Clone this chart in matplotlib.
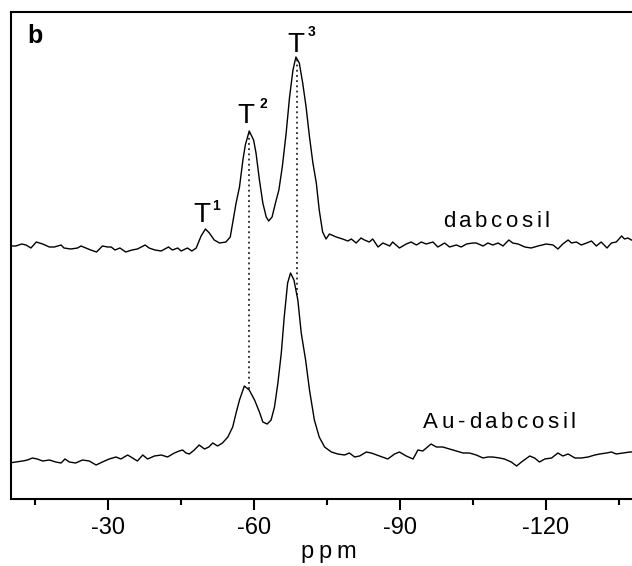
import matplotlib
matplotlib.use("Agg")
import matplotlib.pyplot as plt
from matplotlib.font_manager import FontProperties
from matplotlib.textpath import TextToPath
from matplotlib.ticker import MultipleLocator

plt.rcParams['font.family'] = 'Liberation Sans'

# dabcosil trace (upper), chemical shift in ppm and intensity (a.u.)
top_ppm = [-9.5, -10.0, -11.0, -12.2, -13.1, -14.1, -15.2, -16.5, -17.9, -18.9,
           -20.3, -20.9, -22.3, -23.7, -24.4, -25.4, -26.4, -27.6, -28.8, -29.9,
           -30.6, -31.4, -32.4, -33.6, -34.9, -36.0, -37.6, -38.4, -39.6, -40.9,
           -42.4, -43.2, -44.3, -45.0, -46.3, -47.2, -48.1, -49.1, -50.0, -50.8,
           -51.8, -52.9, -54.2, -55.1, -55.6, -56.3, -57.0, -57.7, -58.2, -59.0,
           -59.9, -60.4, -61.1, -61.8, -62.5, -63.0, -63.7, -64.4, -65.1, -65.8,
           -66.6, -67.3, -68.0, -68.6, -69.3, -70.0, -70.7, -71.4, -72.1, -72.8,
           -73.4, -74.1, -74.8, -75.5, -76.9, -78.2, -79.3, -80.0, -81.0, -82.0,
           -82.7, -83.7, -84.4, -85.5, -86.5, -87.9, -88.5, -89.9, -91.3, -92.3,
           -93.4, -94.4, -95.4, -96.8, -97.8, -99.2, -100.2, -101.6, -102.6, -103.7,
           -105.0, -105.7, -107.1, -108.1, -109.1, -110.2, -111.2, -112.4, -113.2, -114.3,
           -115.7, -117.0, -118.4, -120.1, -121.5, -122.5, -123.5, -124.6, -125.3, -126.3,
           -127.3, -128.4, -129.4, -130.4, -131.4, -132.6, -133.5, -134.5, -135.6, -136.2,
           -136.9, -137.6, -139.0, -140.5]
top_int = [253, 253, 253, 255, 254, 251, 257, 255, 252, 252,
           254, 251, 250, 251, 253, 251, 249, 247, 253, 252,
           252, 249, 251, 247, 249, 250, 254, 251, 249, 248,
           252, 249, 251, 248, 251, 248, 251, 263, 270, 266,
           259, 256, 257, 262, 276, 296, 312, 339, 354, 368,
           359, 346, 319, 296, 282, 278, 282, 296, 309, 332,
           366, 402, 429, 442, 436, 416, 392, 362, 336, 316,
           289, 267, 260, 265, 262, 260, 258, 260, 256, 261,
           259, 257, 260, 252, 256, 253, 257, 251, 255, 257,
           254, 257, 255, 257, 252, 256, 252, 254, 252, 255,
           256, 256, 253, 256, 254, 256, 253, 259, 256, 255,
           252, 251, 253, 255, 254, 250, 255, 259, 256, 257,
           254, 256, 258, 253, 257, 251, 256, 257, 263, 260,
           261, 259, 258, 258]

# Au-dabcosil trace (lower)
bot_ppm = [-9.6, -11.0, -12.4, -13.4, -14.4, -15.4, -16.5, -17.9, -19.2, -20.3,
           -21.1, -22.0, -23.3, -24.7, -26.1, -27.5, -28.8, -30.2, -31.6, -32.6,
           -34.0, -35.0, -36.0, -37.1, -38.1, -39.5, -40.9, -42.2, -43.6, -44.6,
           -45.3, -46.0, -46.7, -47.7, -48.7, -49.8, -50.7, -51.5, -52.5, -53.5,
           -54.6, -55.6, -56.3, -57.0, -58.0, -59.0, -60.1, -61.1, -61.8, -62.7,
           -63.5, -64.2, -64.9, -65.6, -66.2, -66.9, -67.5, -68.2, -69.0, -69.7,
           -70.6, -71.4, -72.4, -73.4, -74.5, -75.9, -77.2, -78.6, -79.6, -80.7,
           -81.7, -83.1, -84.1, -85.8, -87.5, -88.9, -89.9, -91.3, -92.7, -93.7,
           -94.7, -96.4, -97.5, -98.8, -100.2, -101.6, -103.0, -104.3, -105.7, -107.1,
           -108.1, -109.1, -110.5, -111.5, -112.9, -114.0, -115.0, -116.7, -117.7, -118.7,
           -119.8, -121.2, -122.5, -123.5, -124.6, -126.0, -127.3, -128.7, -130.1, -131.1,
           -132.5, -133.5, -134.5, -135.9, -137.3, -140.5]
bot_int = [36, 37, 38, 39, 41, 40, 38, 39, 37, 36,
           40, 37, 36, 39, 38, 34, 37, 40, 42, 40,
           44, 41, 38, 44, 40, 43, 44, 42, 46, 48,
           49, 46, 45, 49, 54, 50, 52, 56, 53, 56,
           62, 72, 86, 99, 113, 109, 99, 87, 77, 75,
           79, 92, 116, 146, 182, 216, 226, 219, 199, 166,
           139, 109, 79, 62, 52, 47, 45, 44, 46, 42,
           43, 47, 46, 43, 40, 45, 47, 43, 40, 49,
           48, 55, 52, 52, 50, 48, 46, 46, 44, 41,
           42, 42, 41, 40, 37, 33, 37, 43, 41, 37,
           40, 41, 46, 43, 45, 41, 41, 42, 44, 45,
           46, 47, 45, 46, 47, 47]

# dotted guide lines (T2, T3 positions)
guide_ppm = [-59.0, -68.9]
guide_top = [368, 442]
guide_bot = [110, 204]

peak_labels = ["1", "2", "3"]
peak_T_pos = [(-49.3, 277), (-58.4, 376), (-68.6, 447)]
peak_sup_pos = [(-52.1, 289), (-61.8, 391), (-71.8, 463)]

ticks = [-30, -60, -90, -120]

t2p = TextToPath()


def spaced_text(ax, x, y, s, size, gap, coords, dy=0):
    # draws s one letter at a time so the letters get extra spacing
    fp = FontProperties(family='Liberation Sans', size=size)
    widths = [t2p.get_text_width_height_descent(c, fp, ismath=False)[0] for c in s]
    total = sum(widths) + gap * (len(s) - 1)
    pos = -total / 2
    for c, w in zip(s, widths):
        ax.annotate(c, xy=(x, y), xycoords=coords, xytext=(pos + w / 2, dy),
                    textcoords='offset points', ha='center', va='baseline',
                    fontsize=size, annotation_clip=False)
        pos += w + gap


fig = plt.figure(figsize=(6.32, 5.66), dpi=100)
ax = fig.add_axes([11 / 632, 1 - 499 / 566, 632 / 632, 487 / 566])

ax.plot(top_ppm, top_int, color='black', lw=1.0)
ax.plot(bot_ppm, bot_int, color='black', lw=1.0)
for gx, gt, gb in zip(guide_ppm, guide_top, guide_bot):
    ax.plot([gx, gx], [gb, gt], color='black', lw=1.1, linestyle=(0, (1.2, 2.2)))

ax.set_xlim(-10, -140)
ax.set_ylim(0, 487)
ax.set_yticks([])
ax.set_xticks(ticks)
ax.set_xticklabels([str(t) for t in ticks], fontsize=17)
ax.xaxis.set_minor_locator(MultipleLocator(15))
ax.tick_params(axis='x', which='major', direction='out', length=8, width=1.5, pad=5)
ax.tick_params(axis='x', which='minor', direction='out', length=4.5, width=1.5)
for sp in ax.spines.values():
    sp.set_linewidth(1.5)

for lab, (tx, ty), (sx, sy) in zip(peak_labels, peak_T_pos, peak_sup_pos):
    ax.text(tx, ty, "T", fontsize=20, ha='center', va='baseline')
    ax.text(sx, sy, lab, fontsize=10, fontweight='bold', ha='center', va='baseline')

spaced_text(ax, -109.8, 272, "dabcosil", 16, 2.6, 'data')
spaced_text(ax, -110.5, 71, "Au-dabcosil", 16, 2.6, 'data')
spaced_text(ax, -75.3, 0, "ppm", 17, 3.5, 'data', dy=-42.5)

fig.text(27 / 632, 1 - 43 / 566, "b", fontsize=18, fontweight='bold', ha='left', va='baseline')

fig.savefig("out.png", dpi=100)
